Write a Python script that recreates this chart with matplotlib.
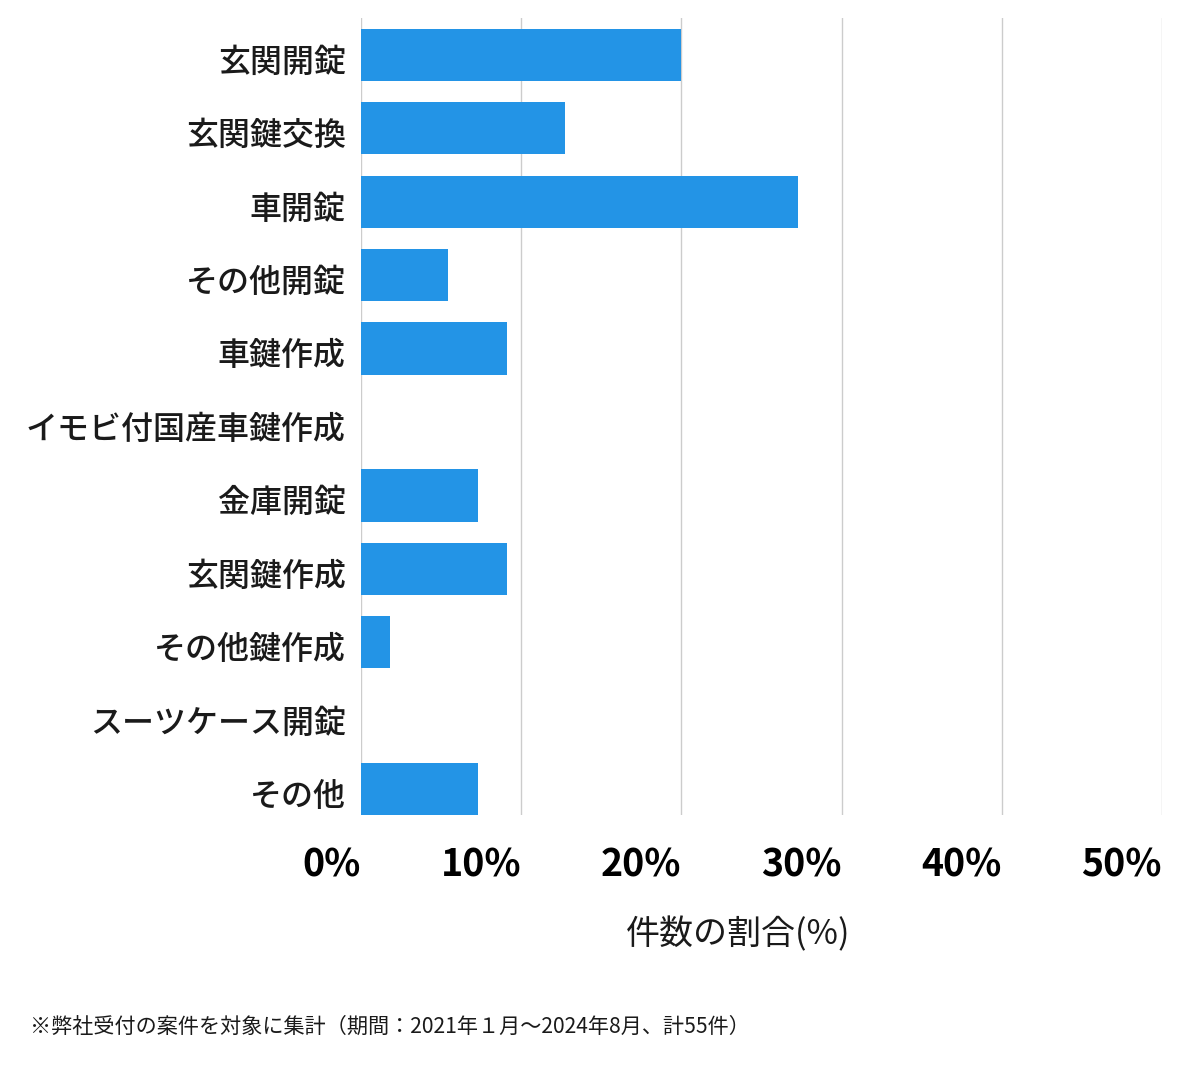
# --------------------------- IMPORT LIBRARIES ---------------------------

import matplotlib
matplotlib.use('Agg')
import matplotlib.pyplot as plt
from matplotlib.ticker import FuncFormatter


# --------------------------- DEFINE THE CHART DATA ---------------------------

# Categories (top to bottom) and number of cases out of 55.
categories = ['玄関開錠', '玄関鍵交換', '車開錠', 'その他開錠', '車鍵作成', 'イモビ付国産車鍵作成',
              '金庫開錠', '玄関鍵作成', 'その他鍵作成', 'スーツケース開錠', 'その他']
counts = [11, 7, 15, 3, 5, 0, 4, 5, 1, 0, 4]
total = 55
shares = [100 * c / total for c in counts]        # [%] share of cases

xticks = [0, 10, 20, 30, 40, 50]
xlabel = '件数の割合(%)'
note = '※弊社受付の案件を対象に集計（期間：2021年１月～2024年8月、計55件）'


# --------------------------- PLOT ---------------------------

plt.rcParams['font.family'] = ['Noto Sans CJK JP', 'DejaVu Sans']

fig = plt.figure(figsize=(12, 10.69), dpi=100)
ax = fig.add_axes([361 / 1200, 1 - 815 / 1069, (1162 - 361) / 1200, (815 - 18) / 1069])

ypos = list(range(len(categories)))
ax.barh(ypos, shares, height=0.71, color='#2394E6', zorder=3)

# Axes limits and ticks.
ax.set_xlim(0, 50)
ax.set_ylim(len(categories) - 1 + 0.35, -0.5)
ax.set_xticks(xticks)
ax.xaxis.set_major_formatter(FuncFormatter(lambda v, p: f'{v:.0f}%'))
ax.set_yticks([y + 0.06 for y in ypos])
ax.set_yticklabels(categories, fontsize=23, color='#1a1a1a', fontweight='medium')
ax.tick_params(axis='y', length=0, pad=11)
ax.tick_params(axis='x', length=0, pad=22, labelsize=27)
for lab in ax.get_xticklabels():
    lab.set_ha('right')
    lab.set_fontweight('bold')

# Gridlines only, no spines.
ax.grid(axis='x', color='#cccccc', linewidth=1, zorder=0)
for s in ax.spines.values():
    s.set_visible(False)

# Axis title and footnote.
fig.text(738 / 1200, 1 - 935 / 1069, xlabel, fontsize=24.5, ha='center', va='center', color='#1a1a1a')
fig.text(30 / 1200, 1 - 1027 / 1069, note, fontsize=15.2, ha='left', va='center', color='#1a1a1a')

fig.savefig('out.png', dpi=100, facecolor='white')
